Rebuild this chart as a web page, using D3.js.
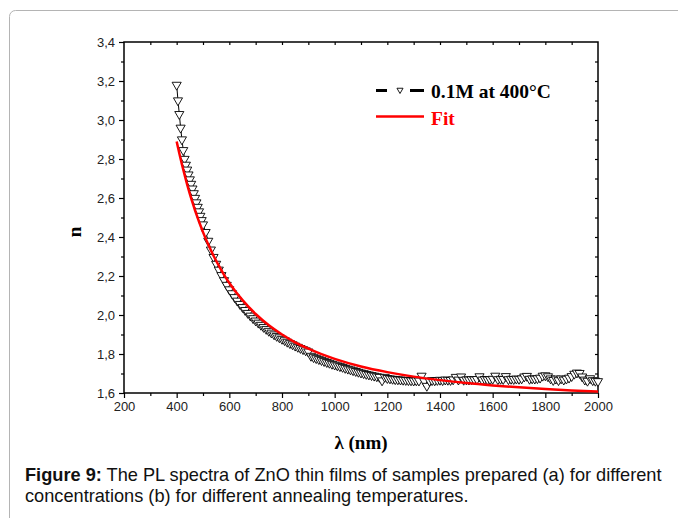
<!DOCTYPE html>
<meta charset="utf-8">
<script src="https://d3js.org/d3.v7.min.js"></script>
<style>
  body { margin: 0; background: #fff; }
  svg text { font-family: "Liberation Sans", Arial, sans-serif; }
</style>
<body>
<div id="viz"></div>
<script>

// measured data: wavelength (nm) and refractive index n
const lambda = [400,405,410,415,420,425,430,435,440,445,450,455,460,465,470,475,480,485,490,495,500,
  510,520,530,540,550,560,570,580,590,600,610,620,630,640,650,660,670,680,690,700,
  710,720,730,740,750,760,770,780,790,800,810,820,830,840,850,860,870,880,890,900,
  910,920,930,940,950,960,970,980,990,1000,1010,1020,1030,1040,1050,1060,1070,1080,1090,1100,
  1110,1120,1130,1140,1150,1160,1170,1180,1190,1200,1210,1220,1230,1240,1250,1260,1270,1280,1290,1300,
  1310,1320,1330,1340,1350,1360,1370,1380,1390,1400,1410,1420,1430,1440,1450,1460,1470,1480,1490,1500,
  1510,1520,1530,1540,1550,1560,1570,1580,1590,1600,1610,1620,1630,1640,1650,1660,1670,1680,1690,1700,
  1710,1720,1730,1740,1750,1760,1770,1780,1790,1800,1810,1820,1830,1840,1850,1860,1870,1880,1890,1900,
  1910,1920,1930,1940,1950,1960,1970,1980,1990,2000];
const nData = [3.18,3.10,3.03,2.96,2.90,2.845,2.80,2.77,2.745,2.72,2.695,2.672,2.648,2.624,2.60,2.577,2.554,2.531,2.508,2.486,2.464,
  2.425,2.38,2.335,2.297,2.262,2.232,2.204,2.178,2.154,2.131,2.111,2.091,2.073,2.056,2.04,2.025,2.01,1.996,1.983,1.971,
  1.96,1.949,1.938,1.928,1.918,1.909,1.90,1.892,1.885,1.877,1.87,1.862,1.855,1.849,1.842,1.836,1.83,1.824,1.818,1.812,
  1.79,1.783,1.778,1.773,1.768,1.763,1.758,1.754,1.749,1.745,1.741,1.737,1.733,1.728,1.724,1.72,1.716,1.712,1.708,1.704,
  1.701,1.697,1.694,1.691,1.688,1.685,1.682,1.664,1.682,1.676,1.674,1.672,1.67,1.669,1.668,1.667,1.666,1.665,1.664,1.663,
  1.664,1.663,1.688,1.66,1.636,1.662,1.665,1.664,1.666,1.667,1.665,1.668,1.667,1.666,1.669,1.682,1.668,1.684,1.667,1.669,
  1.668,1.67,1.669,1.671,1.685,1.668,1.671,1.669,1.67,1.672,1.688,1.67,1.672,1.671,1.686,1.67,1.672,1.671,1.673,1.672,
  1.674,1.684,1.687,1.672,1.674,1.673,1.675,1.678,1.688,1.69,1.685,1.674,1.666,1.673,1.665,1.674,1.668,1.673,1.678,1.686,
  1.698,1.704,1.702,1.684,1.668,1.662,1.675,1.665,1.662,1.66];

// fitted curve
const lambdaFit = [400,410,420,430,440,450,460,470,480,490,500,520,540,560,580,600,650,700,750,800,850,900,950,1000,
  1100,1200,1300,1400,1500,1600,1700,1800,1900,2000];
const nFit = [2.89,2.829,2.772,2.719,2.668,2.621,2.577,2.536,2.497,2.46,2.425,2.361,2.304,2.253,2.206,2.164,2.076,2.005,1.947,1.90,1.86,1.827,1.799,1.775,
  1.736,1.707,1.684,1.666,1.651,1.639,1.629,1.62,1.613,1.607];

const xTicks = [200,400,600,800,1000,1200,1400,1600,1800,2000];
const yTicks = [1.6,1.8,2.0,2.2,2.4,2.6,2.8,3.0,3.2,3.4];

const W = 678, H = 518;
const pl = 124, pr = 598, pt = 42, pb = 393;

const svg = d3.select("#viz").append("svg")
  .attr("width", W).attr("height", H);

// page frame
svg.append("rect")
  .attr("x", 9.5).attr("y", 10.5)
  .attr("width", W + 20).attr("height", H + 20)
  .attr("rx", 6)
  .attr("fill", "none").attr("stroke", "#b4b4b4").attr("stroke-width", 1);

const x = d3.scaleLinear().domain([200, 2000]).range([pl, pr]);
const y = d3.scaleLinear().domain([1.6, 3.4]).range([pb, pt]);
const comma = d => d3.format(".1f")(d).replace(".", ",");

// axes
const xAxis = svg.append("g")
  .attr("transform", `translate(0,${pb})`)
  .call(d3.axisBottom(x).tickValues(xTicks).tickSize(5).tickPadding(4).tickFormat(d3.format("d")).tickSizeOuter(0));
const xMinor = svg.append("g")
  .attr("transform", `translate(0,${pb})`)
  .call(d3.axisBottom(x).tickValues(d3.range(300, 2000, 200)).tickSize(3).tickFormat("").tickSizeOuter(0));
const yAxis = svg.append("g")
  .attr("transform", `translate(${pl},0)`)
  .call(d3.axisLeft(y).tickValues(yTicks).tickSize(5).tickPadding(4).tickFormat(comma).tickSizeOuter(0));
const yMinor = svg.append("g")
  .attr("transform", `translate(${pl},0)`)
  .call(d3.axisLeft(y).tickValues(d3.range(1.7, 3.4, 0.2)).tickSize(3).tickFormat("").tickSizeOuter(0));
const xTop = svg.append("g")
  .attr("transform", `translate(0,${pt})`)
  .call(d3.axisBottom(x).tickValues(d3.range(300, 2000, 100)).tickSize(3).tickFormat("").tickSizeOuter(0));
const yRight = svg.append("g")
  .attr("transform", `translate(${pr},0)`)
  .call(d3.axisLeft(y).tickValues(d3.range(1.7, 3.4, 0.1)).tickSize(3).tickFormat("").tickSizeOuter(0));

[xAxis, xMinor, yAxis, yMinor, xTop, yRight].forEach(g => {
  g.select(".domain").remove();
  g.selectAll("line").attr("stroke", "#000").attr("stroke-width", 1.2);
  g.selectAll("text").attr("font-family", "'Liberation Sans', Arial, sans-serif")
    .attr("font-size", 13).attr("fill", "#222");
});

// plot box
svg.append("rect")
  .attr("x", pl).attr("y", pt)
  .attr("width", pr - pl).attr("height", pb - pt)
  .attr("fill", "none").attr("stroke", "#000").attr("stroke-width", 1.5);

const data = lambda.map((l, i) => ({ l: l, n: nData[i] }));
const fit = lambdaFit.map((l, i) => ({ l: l, n: nFit[i] }));

// data line + markers
svg.append("path")
  .datum(data)
  .attr("fill", "none").attr("stroke", "#000").attr("stroke-width", 1)
  .attr("d", d3.line().x(d => x(d.l)).y(d => y(d.n)));

const tri = d3.symbol(d3.symbolTriangle, 36);
svg.append("g").selectAll("path")
  .data(data)
  .join("path")
    .attr("d", tri)
    .attr("transform", d => `translate(${x(d.l)},${y(d.n)}) rotate(180)`)
    .attr("fill", "#fff").attr("stroke", "#000").attr("stroke-width", 0.9);

// fit line
svg.append("path")
  .datum(fit)
  .attr("fill", "none").attr("stroke", "#ff0000").attr("stroke-width", 2.5)
  .attr("d", d3.line().curve(d3.curveMonotoneX).x(d => x(d.l)).y(d => y(d.n)));

// legend
const lg = svg.append("g");
lg.append("line").attr("x1", 376).attr("x2", 387).attr("y1", 90.5).attr("y2", 90.5)
  .attr("stroke", "#000").attr("stroke-width", 3);
lg.append("line").attr("x1", 410).attr("x2", 424).attr("y1", 90.5).attr("y2", 90.5)
  .attr("stroke", "#000").attr("stroke-width", 3);
lg.append("path").attr("d", d3.symbol(d3.symbolTriangle, 16))
  .attr("transform", "translate(400,90) rotate(180)")
  .attr("fill", "#fff").attr("stroke", "#000").attr("stroke-width", 0.9);
lg.append("text").attr("x", 431).attr("y", 97.5)
  .style("font-family", "'Liberation Serif', 'Times New Roman', serif")
  .attr("font-weight", "bold").attr("font-size", 19.5).text("0.1M at 400°C");
lg.append("line").attr("x1", 376).attr("x2", 424).attr("y1", 116.5).attr("y2", 116.5)
  .attr("stroke", "#ff0000").attr("stroke-width", 2.5);
lg.append("text").attr("x", 431).attr("y", 124.5).attr("fill", "#ff0000")
  .style("font-family", "'Liberation Serif', 'Times New Roman', serif")
  .attr("font-weight", "bold").attr("font-size", 19.5).text("Fit");

// axis titles
svg.append("text")
  .attr("transform", "translate(81,232) rotate(-90)")
  .attr("text-anchor", "middle")
  .style("font-family", "'Liberation Serif', 'Times New Roman', serif")
  .attr("font-weight", "bold").attr("font-size", 19).text("n");
svg.append("text")
  .attr("x", 361).attr("y", 449)
  .attr("text-anchor", "middle")
  .style("font-family", "'Liberation Serif', 'Times New Roman', serif")
  .attr("font-weight", "bold").attr("font-size", 19).text("λ (nm)");

// caption
const cap = svg.append("text").attr("font-size", 18.2).attr("fill", "#111");
cap.append("tspan").attr("x", 25).attr("y", 481).attr("font-weight", "bold").text("Figure 9:");
cap.append("tspan").text(" The PL spectra of ZnO thin films of samples prepared (a) for different");
cap.append("tspan").attr("x", 25).attr("y", 502)
  .text("concentrations (b) for different annealing temperatures.");

</script>
</body>
